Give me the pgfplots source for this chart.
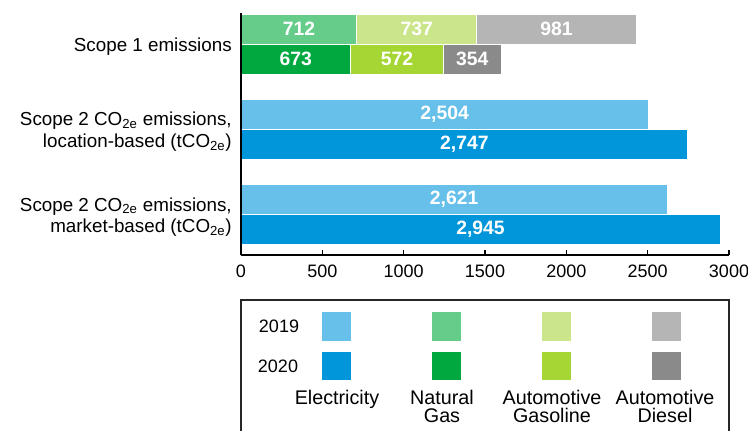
\documentclass[border=0pt]{standalone}
\usepackage{fontspec}
\setmainfont{Liberation Sans}
\usepackage{pgfplots}
\pgfplotsset{compat=1.18}
\definecolor{elA}{RGB}{102,192,234}
\definecolor{elB}{RGB}{0,150,217}
\definecolor{ngA}{RGB}{102,204,138}
\definecolor{ngB}{RGB}{0,168,63}
\definecolor{gaA}{RGB}{203,229,138}
\definecolor{gaB}{RGB}{165,214,51}
\definecolor{diA}{RGB}{181,181,181}
\definecolor{diB}{RGB}{138,138,138}
\newcommand{\lblfont}{\fontsize{13.5}{16.1}\selectfont}
\newcommand{\ylblfont}{\fontsize{14.1}{16.1}\selectfont}
\newcommand{\legfont}{\fontsize{14.8}{16}\selectfont}
\newcommand{\valfont}{\fontsize{14.5}{16}\selectfont\bfseries}
\pgfplotsset{
  base/.style={
    scale only axis, width=366pt, height=181.5pt,
    at={(180.75pt,131.25pt)}, anchor=south west,
    xmin=0, xmax=3000, ymin=-0.4751, ymax=2.3636,
    bar width=22.5pt,
    every axis plot/.append style={draw=white, line width=0.6pt},
    visualization depends on=rawx \as \rawx,
    nodes near coords={\pgfmathprintnumber[1000 sep={,}, assume math mode=true]{\rawx}},
    every node near coord/.append style={font=\valfont, text=white, anchor=center,
      inner sep=0pt},
  },
}
\begin{document}
\begin{tikzpicture}
\useasboundingbox (0,0) rectangle (561pt,322.5pt);
% Scope 1, 2019
\begin{axis}[xbar stacked, bar shift=11.25pt, base, hide axis]
\addplot[fill=ngA] coordinates {(712,2)};
\addplot[fill=gaA] coordinates {(737,2)};
\addplot[fill=diA] coordinates {(981,2)};
\end{axis}
% Scope 1, 2020
\begin{axis}[xbar stacked, bar shift=-11.25pt, base, hide axis]
\addplot[fill=ngB] coordinates {(673,2)};
\addplot[fill=gaB] coordinates {(572,2)};
\addplot[fill=diB] coordinates {(354,2)};
\end{axis}
% Scope 2 electricity
\begin{axis}[xbar, base, axis on top,
  every node near coord/.append style={shift={(axis direction cs:-\rawx/2,0)}},
  axis x line*=bottom, axis y line*=left,
  axis line style={line width=0.8pt, black},
  xtick={0,500,...,3000}, xtick align=inside, major tick length=3.75pt,
  x tick style={line width=0.8pt, black},
  x tick label style={font=\lblfont, inner sep=0pt, yshift=-7.5pt,
    /pgf/number format/1000 sep={}, /pgf/number format/assume math mode=true},
  ytick={0,1,2},
  yticklabels={{Scope 2 CO\textsubscript{2e} emissions,\\market-based (tCO\textsubscript{2e})},
               {Scope 2 CO\textsubscript{2e} emissions,\\location-based (tCO\textsubscript{2e})},
               {Scope 1 emissions}},
  y tick style={draw=none},
  y tick label style={font=\ylblfont, align=right, inner sep=0pt, xshift=-3pt, yshift=-1.8pt},
]
\addplot[fill=elA, bar shift=11.25pt] coordinates {(2504,1) (2621,0)};
\addplot[fill=elB, bar shift=-11.25pt] coordinates {(2747,1) (2945,0)};
\end{axis}
% legend
\begin{scope}[yshift=322.5pt, x=0.75pt, y=-0.75pt]
\draw[line width=0.8pt, black!85] (241,440) |- (729,300) -- (729,440);
\foreach \cx/\ca/\cb in {336.5/elA/elB, 446.5/ngA/ngB, 556.5/gaA/gaB, 666.5/diA/diB}{
  \fill[\ca] (\cx-14.25,312) rectangle (\cx+14.25,340.5);
  \fill[\cb] (\cx-14.25,351.5) rectangle (\cx+14.25,380);
}
\node[font=\lblfont, anchor=base] at (279,332.3) {2019};
\node[font=\lblfont, anchor=base] at (278,372.7) {2020};
\node[font=\legfont, anchor=base] at (337,404) {Electricity};
\node[font=\legfont, anchor=base] at (442,404) {Natural};
\node[font=\legfont, anchor=base] at (442,422) {Gas};
\node[font=\legfont, anchor=base] at (552,404) {Automotive};
\node[font=\legfont, anchor=base] at (552,422) {Gasoline};
\node[font=\legfont, anchor=base] at (665,404) {Automotive};
\node[font=\legfont, anchor=base] at (665,422) {Diesel};
\end{scope}
\end{tikzpicture}
\end{document}
